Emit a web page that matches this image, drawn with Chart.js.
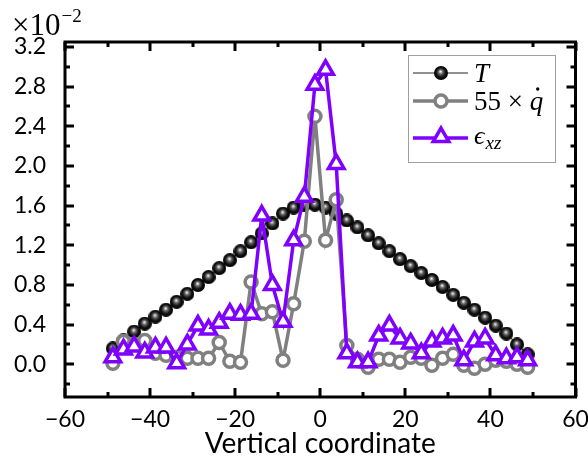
<!DOCTYPE html>
<html>
<head>
<meta charset="utf-8">
<script src="https://cdn.jsdelivr.net/npm/chart.js@4.4.0/dist/chart.umd.min.js"></script>
<style>
  html, body { margin: 0; padding: 0; background: #fff; }
</style>
</head>
<body>
<canvas id="myChart" width="588" height="462"></canvas>
<script>
// positions along the vertical coordinate (cell centres)
var xValues = [-48.75, -46.25, -43.75, -41.25, -38.75, -36.25, -33.75, -31.25, -28.75, -26.25,
  -23.75, -21.25, -18.75, -16.25, -13.75, -11.25, -8.75, -6.25, -3.75, -1.25,
  1.25, 3.75, 6.25, 8.75, 11.25, 13.75, 16.25, 18.75, 21.25, 23.75,
  26.25, 28.75, 31.25, 33.75, 36.25, 38.75, 41.25, 43.75, 46.25, 48.75];

// values in units of 1e-2
var tValues = [0.16, 0.24, 0.33, 0.41, 0.48, 0.55, 0.63, 0.71, 0.80, 0.88,
  0.97, 1.05, 1.14, 1.23, 1.32, 1.42, 1.52, 1.58, 1.61, 1.61,
  1.58, 1.52, 1.45, 1.38, 1.30, 1.22, 1.14, 1.06, 0.99, 0.92,
  0.85, 0.78, 0.70, 0.62, 0.55, 0.47, 0.39, 0.31, 0.20, 0.10];
var qValues = [0.01, 0.23, 0.20, 0.24, 0.11, 0.09, 0.07, 0.06, 0.06, 0.06,
  0.22, 0.03, 0.02, 0.83, 0.51, 0.53, 0.04, 0.61, 1.24, 2.50,
  1.25, 1.66, 0.19, 0.05, -0.03, 0.05, 0.05, 0.02, 0.07, 0.06,
  -0.01, 0.06, 0.10, -0.01, -0.04, 0.00, 0.04, 0.03, 0.00, -0.03];
var epsValues = [0.07, 0.15, 0.18, 0.12, 0.17, 0.17, 0.01, 0.20, 0.39, 0.35,
  0.42, 0.51, 0.50, 0.51, 1.50, 0.80, 0.43, 1.25, 1.69, 2.82,
  2.97, 2.02, 0.11, 0.02, 0.02, 0.29, 0.39, 0.26, 0.21, 0.11,
  0.23, 0.26, 0.29, 0.04, 0.23, 0.26, 0.09, 0.06, 0.07, 0.04];

var xTicks = [-60, -40, -20, 0, 20, 40, 60];
var xMinor = [-50, -30, -10, 10, 30, 50];
var yTicks = [0.0, 0.4, 0.8, 1.2, 1.6, 2.0, 2.4, 2.8, 3.2];
var yMinor = [-0.2, 0.2, 0.6, 1.0, 1.4, 1.8, 2.2, 2.6, 3.0];

var PURPLE = "#7f00ff";
var GRAY = "#808080";
var SERIF = "'Liberation Serif', 'DejaVu Serif', serif";
var SANS = "Lato, 'Open Sans', sans-serif";

function pts(ys) {
  return xValues.map(function (x, i) { return { x: x, y: ys[i] }; });
}

// shaded black ball used as marker for T
function sphere(r) {
  var c = document.createElement("canvas");
  c.width = c.height = 2 * r;
  var g = c.getContext("2d");
  var grad = g.createRadialGradient(r - 0.5, r - 1.5, 0.3, r, r, r);
  grad.addColorStop(0, "#f4f4f4");
  grad.addColorStop(0.28, "#666");
  grad.addColorStop(0.65, "#111");
  grad.addColorStop(1, "#000");
  g.fillStyle = grad;
  g.beginPath();
  g.arc(r, r, r, 0, Math.PI * 2);
  g.fill();
  return c;
}
var ball = sphere(7);

// frame, inward ticks and legend
var decor = {
  id: "decor",
  afterDatasetsDraw: function (chart) {
    var ctx = chart.ctx, a = chart.chartArea;
    var sx = chart.scales.x, sy = chart.scales.y;
    ctx.save();
    ctx.strokeStyle = "#000";
    ctx.lineWidth = 3;
    ctx.lineCap = "butt";
    function vtick(v, len) {
      var p = Math.round(sx.getPixelForValue(v));
      ctx.beginPath();
      ctx.moveTo(p, a.bottom); ctx.lineTo(p, a.bottom - len);
      ctx.moveTo(p, a.top); ctx.lineTo(p, a.top + len);
      ctx.stroke();
    }
    function htick(v, len) {
      var p = Math.round(sy.getPixelForValue(v));
      ctx.beginPath();
      ctx.moveTo(a.left, p); ctx.lineTo(a.left + len, p);
      ctx.moveTo(a.right, p); ctx.lineTo(a.right - len, p);
      ctx.stroke();
    }
    xTicks.forEach(function (v) { vtick(v, 9); });
    xMinor.forEach(function (v) { vtick(v, 5); });
    yTicks.forEach(function (v) { htick(v, 9); });
    yMinor.forEach(function (v) { htick(v, 5); });
    ctx.strokeRect(a.left, a.top, a.right - a.left, a.bottom - a.top);

    // legend
    var L = 408, T = 55, W = 147, H = 107;
    ctx.fillStyle = "#fff";
    ctx.fillRect(L, T, W, H);
    ctx.strokeStyle = "#a0a0a0";
    ctx.lineWidth = 1;
    ctx.strokeRect(L + 0.5, T + 0.5, W, H);
    var x0 = 413, x1 = 468, xm = 441;
    var rows = [73, 101, 138];

    ctx.strokeStyle = "#222";
    ctx.lineWidth = 1;
    ctx.beginPath(); ctx.moveTo(x0, rows[0]); ctx.lineTo(x1, rows[0]); ctx.stroke();
    ctx.drawImage(ball, xm - ball.width / 2, rows[0] - ball.height / 2);

    ctx.strokeStyle = GRAY;
    ctx.lineWidth = 3.5;
    ctx.beginPath(); ctx.moveTo(x0, rows[1]); ctx.lineTo(x1, rows[1]); ctx.stroke();
    ctx.fillStyle = "#fff";
    Chart.helpers.drawPoint(ctx, { pointStyle: "circle", radius: 6, borderWidth: 3.5, rotation: 0 }, xm, rows[1]);

    ctx.strokeStyle = PURPLE;
    ctx.lineWidth = 3.5;
    ctx.beginPath(); ctx.moveTo(x0, rows[2]); ctx.lineTo(x1, rows[2]); ctx.stroke();
    ctx.fillStyle = "#fff";
    Chart.helpers.drawPoint(ctx, { pointStyle: "triangle", radius: 9, borderWidth: 3.5, rotation: 0 }, xm, rows[2] - 1);

    ctx.fillStyle = "#000";
    ctx.textBaseline = "alphabetic";
    ctx.font = "italic 27px " + SERIF;
    ctx.fillText("T", 474, rows[0] + 9);

    ctx.font = "27px " + SERIF;
    ctx.fillText("55 \u00d7 ", 474, rows[1] + 9);
    var qx = 474 + ctx.measureText("55 \u00d7 ").width;
    ctx.font = "italic 27px " + SERIF;
    ctx.fillText("q", qx, rows[1] + 9);
    ctx.beginPath();
    ctx.arc(qx + 8, rows[1] - 12, 1.7, 0, Math.PI * 2);
    ctx.fill();

    ctx.font = "italic 26px " + SERIF;
    ctx.fillText("\u03f5", 474, rows[2] + 6);
    var ex = 474 + ctx.measureText("\u03f5").width;
    ctx.font = "italic 19px " + SERIF;
    ctx.fillText("xz", ex + 1, rows[2] + 11);
    ctx.restore();
  },
  // axis multiplier above the y axis
  afterDraw: function (chart) {
    var ctx = chart.ctx;
    ctx.save();
    ctx.fillStyle = "#000";
    ctx.textAlign = "left";
    ctx.textBaseline = "alphabetic";
    ctx.font = "31px " + SERIF;
    ctx.fillText("\u00d710", 12, 35);
    var mx = 12 + ctx.measureText("\u00d710").width;
    ctx.font = "19px " + SERIF;
    ctx.fillText("\u22122", mx + 1, 22);
    ctx.restore();
  }
};

new Chart("myChart", {
  type: "line",
  data: {
    datasets: [
      {
        label: "T",
        data: pts(tValues),
        borderColor: "#222",
        borderWidth: 1,
        pointStyle: ball,
        order: 3
      },
      {
        label: "55 x q",
        data: pts(qValues),
        borderColor: GRAY,
        borderWidth: 3.5,
        pointStyle: "circle",
        pointRadius: 6,
        pointBorderWidth: 3.5,
        pointBorderColor: GRAY,
        pointBackgroundColor: "#fff",
        order: 2
      },
      {
        label: "eps_xz",
        data: pts(epsValues),
        borderColor: PURPLE,
        borderWidth: 3.5,
        pointStyle: "triangle",
        pointRadius: 9,
        pointBorderWidth: 3.5,
        pointBorderColor: PURPLE,
        pointBackgroundColor: "#fff",
        order: 1
      }
    ]
  },
  options: {
    responsive: false,
    animation: false,
    devicePixelRatio: 1,
    layout: { padding: { left: 0, right: 11, top: 42, bottom: 0 } },
    plugins: { legend: { display: false }, tooltip: { enabled: false } },
    scales: {
      x: {
        type: "linear",
        min: -60,
        max: 60,
        grid: { display: false, drawTicks: false },
        border: { display: false },
        afterBuildTicks: function (s) { s.ticks = xTicks.map(function (v) { return { value: v }; }); },
        afterFit: function (s) { s.height = 65; s.paddingLeft = 0; s.paddingRight = 0; },
        ticks: {
          autoSkip: false,
          maxRotation: 0,
          padding: 9,
          color: "#000",
          font: { family: SANS, size: 23 },
          callback: function (v) { return String(v).replace("-", "\u2212"); }
        },
        title: {
          display: true,
          text: "Vertical coordinate",
          color: "#000",
          font: { family: SANS, size: 28 },
          padding: { top: 0, bottom: 1 }
        }
      },
      y: {
        type: "linear",
        min: -0.33,
        max: 3.25,
        grid: { display: false, drawTicks: false },
        border: { display: false },
        afterBuildTicks: function (s) { s.ticks = yTicks.map(function (v) { return { value: v }; }); },
        afterFit: function (s) { s.width = 65; s.paddingTop = 0; s.paddingBottom = 0; },
        ticks: {
          padding: 19,
          color: "#000",
          font: { family: SANS, size: 23 },
          callback: function (v) { return v.toFixed(1); }
        }
      }
    }
  },
  plugins: [decor]
});
</script>
</body>
</html>
